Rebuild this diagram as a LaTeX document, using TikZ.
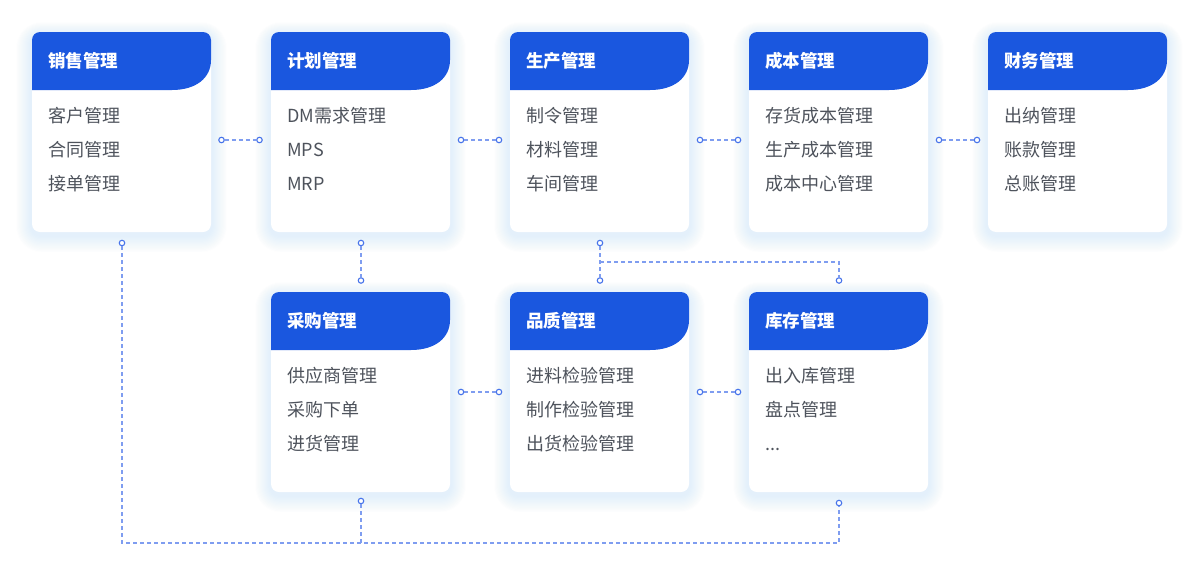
\documentclass[tikz,border=0pt]{standalone}
\usepackage{fontspec}
\setmainfont{Noto Sans CJK SC}
\definecolor{hdblue}{HTML}{1A57DF}
\definecolor{itemgray}{HTML}{4E535C}
\definecolor{dashblue}{HTML}{7F9DF0}
\definecolor{dotblue}{HTML}{4673EA}
\definecolor{glow}{HTML}{CFE6FB}
\newcommand\mkglow[2]{%
  \foreach \k in {1,2,3,4,5,6,7,8,9,10,11,12,13,14}{
    \fill[glow,fill opacity=0.045,rounded corners=8pt+\k*1.2pt]
      (#1-\k*1.1,#2-\k*0.9+3) rectangle (#1+179+\k*1.1,#2+200+\k*1.2+3);
  }
}
\newcommand\mkbody[7]{%
  \node[cardbox] (#1) at (#2+89.5,#3+100) {};
  \fill[hdblue] (#2,#3+58) -- (#2,#3+20) [rounded corners=8pt] -- (#2,#3) -- (#2+179,#3) -- (#2+179,#3+20) [sharp corners]
     .. controls (#2+179,#3+46) and (#2+164,#3+58) .. (#2+140,#3+58) -- cycle;
  \node[titletext] (#1-t) at (#2+16,#3+29+6.5) {#4};
  \node[itemtext] (#1-1) at (#2+16,#3+84+6.8) {#5};
  \node[itemtext] (#1-2) at (#2+16,#3+118+6.8) {#6};
  \node[itemtext] (#1-3) at (#2+16,#3+152+6.8) {#7};
}
\begin{document}
\begin{tikzpicture}[x=1pt,y=-1pt,
  cardbox/.style={rectangle,rounded corners=8pt,fill=white,minimum width=179pt,minimum height=200pt,inner sep=0pt},
  titletext/.style={anchor=base west,inner sep=0pt,text=white,font=\fontsize{17.5}{20}\selectfont\bfseries},
  itemtext/.style={anchor=base west,inner sep=0pt,text=itemgray,font=\fontsize{18}{20}\selectfont},
  cdot/.style={circle,draw=dotblue,fill=white,line width=1.1pt,inner sep=0pt,minimum size=5.5pt},
  link/.style={draw=dashblue,line width=1.5pt,dash pattern=on 4pt off 3pt}]
\useasboundingbox (0,0) rectangle (1200,576);
\fill[white] (0,0) rectangle (1200,576);
% glows
\mkglow{32}{32}
\mkglow{271}{32}
\mkglow{510}{32}
\mkglow{749}{32}
\mkglow{988}{32}
\mkglow{271}{292}
\mkglow{510}{292}
\mkglow{749}{292}
% cards
\mkbody{sales}{32}{32}{销售管理}{客户管理}{合同管理}{接单管理}
\mkbody{plan}{271}{32}{计划管理}{DM需求管理}{MPS}{MRP}
\mkbody{prod}{510}{32}{生产管理}{制令管理}{材料管理}{车间管理}
\mkbody{cost}{749}{32}{成本管理}{存货成本管理}{生产成本管理}{成本中心管理}
\mkbody{fin}{988}{32}{财务管理}{出纳管理}{账款管理}{总账管理}
\mkbody{purch}{271}{292}{采购管理}{供应商管理}{采购下单}{进货管理}
\mkbody{qual}{510}{292}{品质管理}{进料检验管理}{制作检验管理}{出货检验管理}
\mkbody{stock}{749}{292}{库存管理}{出入库管理}{盘点管理}{...}
% connector dots
\node[cdot] (h1a) at (221.5,140) {};
\node[cdot] (h1b) at (259.5,140) {};
\node[cdot] (h2a) at (461,140) {};
\node[cdot] (h2b) at (499,140) {};
\node[cdot] (h3a) at (700,140) {};
\node[cdot] (h3b) at (738,140) {};
\node[cdot] (h4a) at (939,140) {};
\node[cdot] (h4b) at (977,140) {};
\node[cdot] (h5a) at (461,392) {};
\node[cdot] (h5b) at (499,392) {};
\node[cdot] (h6a) at (700,392) {};
\node[cdot] (h6b) at (738,392) {};
\node[cdot] (v1a) at (361,243) {};
\node[cdot] (v1b) at (361,280.5) {};
\node[cdot] (v2a) at (600,243) {};
\node[cdot] (v2b) at (600,280.5) {};
\node[cdot] (v3b) at (839,280.5) {};
\node[cdot] (s1) at (122,243) {};
\node[cdot] (s2) at (361,501) {};
\node[cdot] (s3) at (839,503) {};
\coordinate (br) at (600,262);
\coordinate (brr) at (839,262);
\coordinate (bl) at (122,543);
\coordinate (bm) at (361,543);
\coordinate (bre) at (839,543);
% connectors
\draw[link] (h1a) -- (h1b);
\draw[link] (h2a) -- (h2b);
\draw[link] (h3a) -- (h3b);
\draw[link] (h4a) -- (h4b);
\draw[link] (h5a) -- (h5b);
\draw[link] (h6a) -- (h6b);
\draw[link] (v1a) -- (v1b);
\draw[link] (v2a) -- (v2b);
\draw[link] (br) -- (brr) -- (v3b);
\draw[link] (s1) -- (bl) -- (bre) -- (s3);
\draw[link] (s2) -- (bm);
\end{tikzpicture}
\end{document}
